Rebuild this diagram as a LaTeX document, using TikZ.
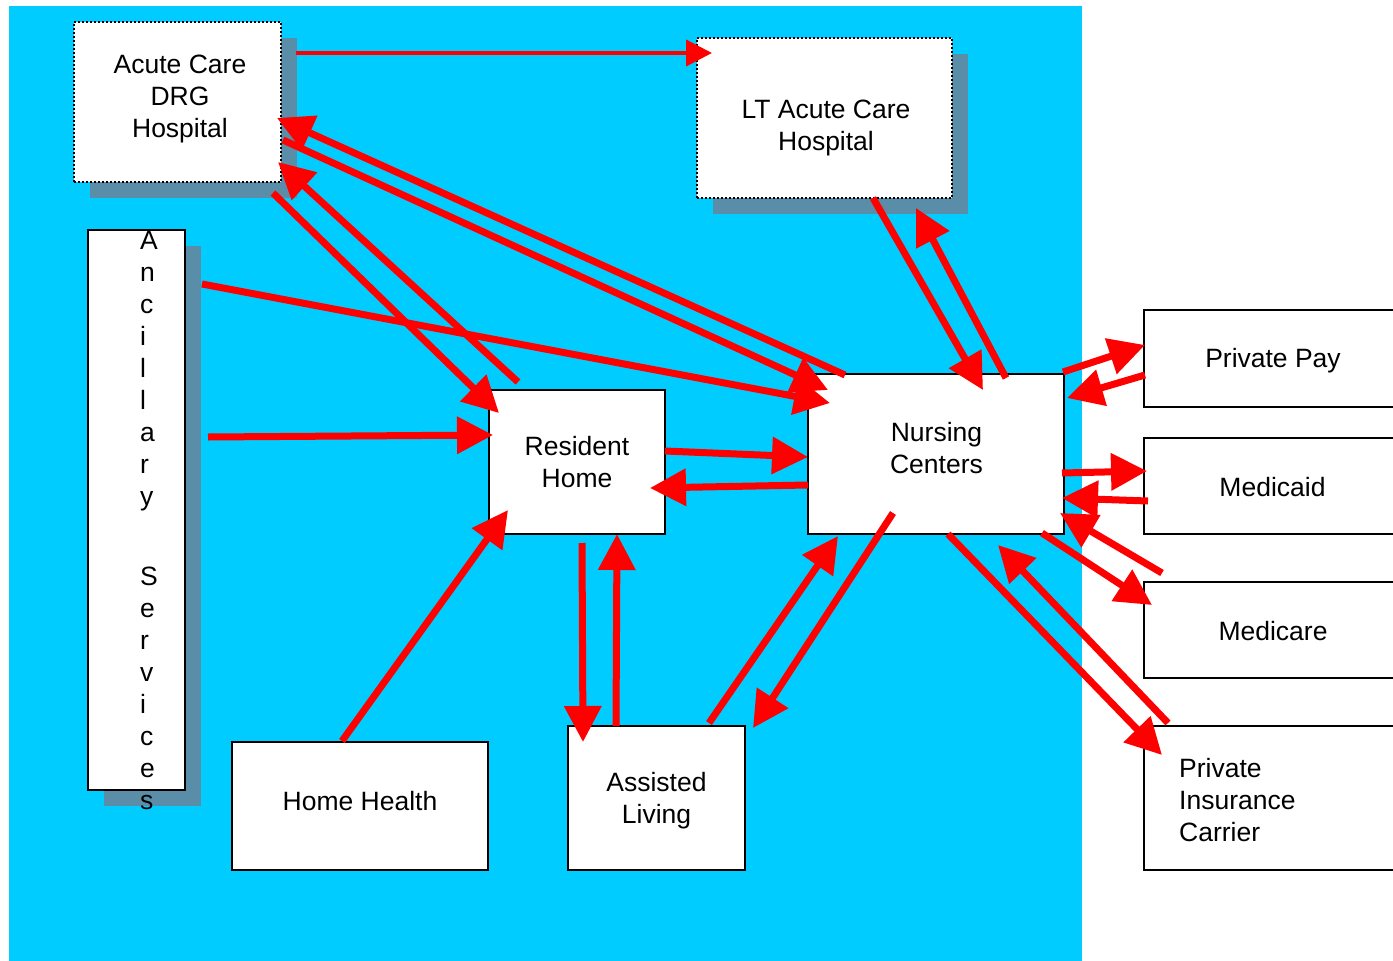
\documentclass[tikz,border=0pt]{standalone}
\usepackage{fontspec}
\setmainfont{Liberation Sans}
\usetikzlibrary{arrows.meta,calc,shadows}
\definecolor{bgcyan}{RGB}{0,204,255}
\definecolor{shadowC}{RGB}{90,142,168}
\definecolor{arrowred}{RGB}{255,0,0}
\begin{document}
\begin{tikzpicture}[x=1pt,y=-1pt,
  box/.style={draw=black,line width=2pt,fill=white,anchor=north west,outer sep=0pt,inner sep=0pt},
  dotbox/.style={box,dash pattern=on 2pt off 2pt},
  shad/.style={drop shadow={shadow xshift=16pt,shadow yshift=-16pt,fill=shadowC,opacity=1}},
  lbl/.style={font=\fontsize{26.5}{32}\selectfont,align=center,inner sep=0pt},
  flow/.style={draw=arrowred,line width=7pt,-{Triangle[length=36pt,width=36pt]}},
  thinflow/.style={draw=arrowred,line width=4pt,-{Triangle[length=26pt,width=26pt]}}
]
\useasboundingbox (0,0) rectangle (1393,961);
\clip (0,0) rectangle (1393,961);
\fill[bgcyan] (9,6) rectangle (1082,961);

% boxes
\node[dotbox,shad,minimum width=207pt,minimum height=160pt] (acute) at (74,22) {};
\node[dotbox,shad,minimum width=255pt,minimum height=160pt] (lt) at (697,38) {};
\node[box,shad,minimum width=97pt,minimum height=560pt] (anc) at (88,230) {};
\node[box,minimum width=176pt,minimum height=144pt] (res) at (489,390) {};
\node[box,minimum width=256pt,minimum height=160pt] (nurs) at (808,374) {};
\node[box,minimum width=256pt,minimum height=128pt] (hh) at (232,742) {};
\node[box,minimum width=177pt,minimum height=144pt] (al) at (568,726) {};
\node[box,minimum width=256pt,minimum height=97pt] (pp) at (1144,310) {};
\node[box,minimum width=256pt,minimum height=96pt] (mcd) at (1144,438) {};
\node[box,minimum width=256pt,minimum height=96pt] (mcr) at (1144,582) {};
\node[box,minimum width=256pt,minimum height=144pt] (pic) at (1144,726) {};

% texts
\node[lbl] (acuteT) at ($(acute.center)+(2.5,-2.8)$) {Acute Care\\DRG\\Hospital};
\node[lbl] (ltT) at ($(lt.center)+(1.5,10)$) {LT Acute Care\\Hospital};
\node[lbl,anchor=north west,align=left] (ancT) at (140,231) {A\\n\\c\\i\\l\\l\\a\\r\\y\\[48pt]S\\e\\r\\v\\i\\c\\e\\s};
\node[lbl] (resT) at ($(res.center)+(0,0)$) {Resident\\Home};
\node[lbl] (nursT) at ($(nurs.center)+(0.5,-5.5)$) {Nursing\\Centers};
\node[lbl] (hhT) at ($(hh.center)+(0,-5)$) {Home Health};
\node[lbl] (alT) at ($(al.center)+(0,2.5)$) {Assisted\\Living};
\node[lbl] (ppT) at ($(pp.center)+(1,2)$) {Private Pay};
\node[lbl] (mcdT) at ($(mcd.center)+(0.5,0.8)$) {Medicaid};
\node[lbl] (mcrT) at ($(mcr.center)+(1,0.8)$) {Medicare};
\node[lbl,anchor=west,align=left] (picT) at ($(pic.west)+(35,2.5)$) {Private\\Insurance\\Carrier};

% connectors
\draw[thinflow] ($(acute.north east)+(15,31)$) -- ($(lt.north west)+(15,15)$);
\draw[flow] ($(nurs.north west)+(37,1)$) -- ($(acute.north east)+(-4,96)$);
\draw[flow] ($(acute.north east)+(2,118)$) -- ($(nurs.north west)+(20,16)$);
\draw[flow] ($(res.north west)+(29,-8)$) -- ($(acute.south east)+(-3,-20)$);
\draw[flow] ($(acute.south east)+(-8,11)$) -- ($(res.north west)+(10,23)$);
\draw[flow] ($(anc.north east)+(17,54)$) -- ($(nurs.north west)+(22,29)$);
\draw[flow] ($(anc.north east)+(23,207)$) -- ($(res.north west)+(4,45)$);
\draw[flow] ($(res.north east)+(0,61)$) -- ($(nurs.north west)+(0,83)$);
\draw[flow] ($(nurs.north west)+(0,111)$) -- ($(res.north east)+(-15,98)$);
\draw[flow] ($(hh.north west)+(110,-1)$) -- ($(res.south west)+(19,-24)$);
\draw[flow] ($(res.south west)+(93,9)$) -- ($(al.north west)+(15,16)$);
\draw[flow] ($(al.north west)+(48,0)$) -- ($(res.south west)+(128,0)$);
\draw[flow] ($(al.north west)+(141,-3)$) -- ($(nurs.south west)+(30,2)$);
\draw[flow] ($(nurs.south west)+(85,-21)$) -- ($(al.north east)+(8,2)$);
\draw[flow] ($(lt.south west)+(176,0)$) -- ($(nurs.north west)+(175,16)$);
\draw[flow] ($(nurs.north west)+(198,4)$) -- ($(lt.south west)+(219,10)$);
\draw[flow] ($(nurs.south west)+(140,0)$) -- ($(pic.north west)+(18,29)$);
\draw[flow] ($(pic.north west)+(24,-3)$) -- ($(nurs.south west)+(190,11)$);
\draw[flow] ($(nurs.south east)+(-22,-1)$) -- ($(mcr.north west)+(8,23)$);
\draw[flow] ($(mcr.north west)+(18,-9)$) -- ($(nurs.south east)+(-4,-21)$);
\draw[flow] ($(nurs.north east)+(-1,-2)$) -- ($(pp.north west)+(1,35)$);
\draw[flow] ($(pp.north west)+(1,65)$) -- ($(nurs.north east)+(3,24)$);
\draw[flow] ($(nurs.north east)+(-2,99)$) -- ($(mcd.north west)+(3,33)$);
\draw[flow] ($(mcd.north west)+(4,63)$) -- ($(nurs.north east)+(-2,124)$);
\end{tikzpicture}
\end{document}
